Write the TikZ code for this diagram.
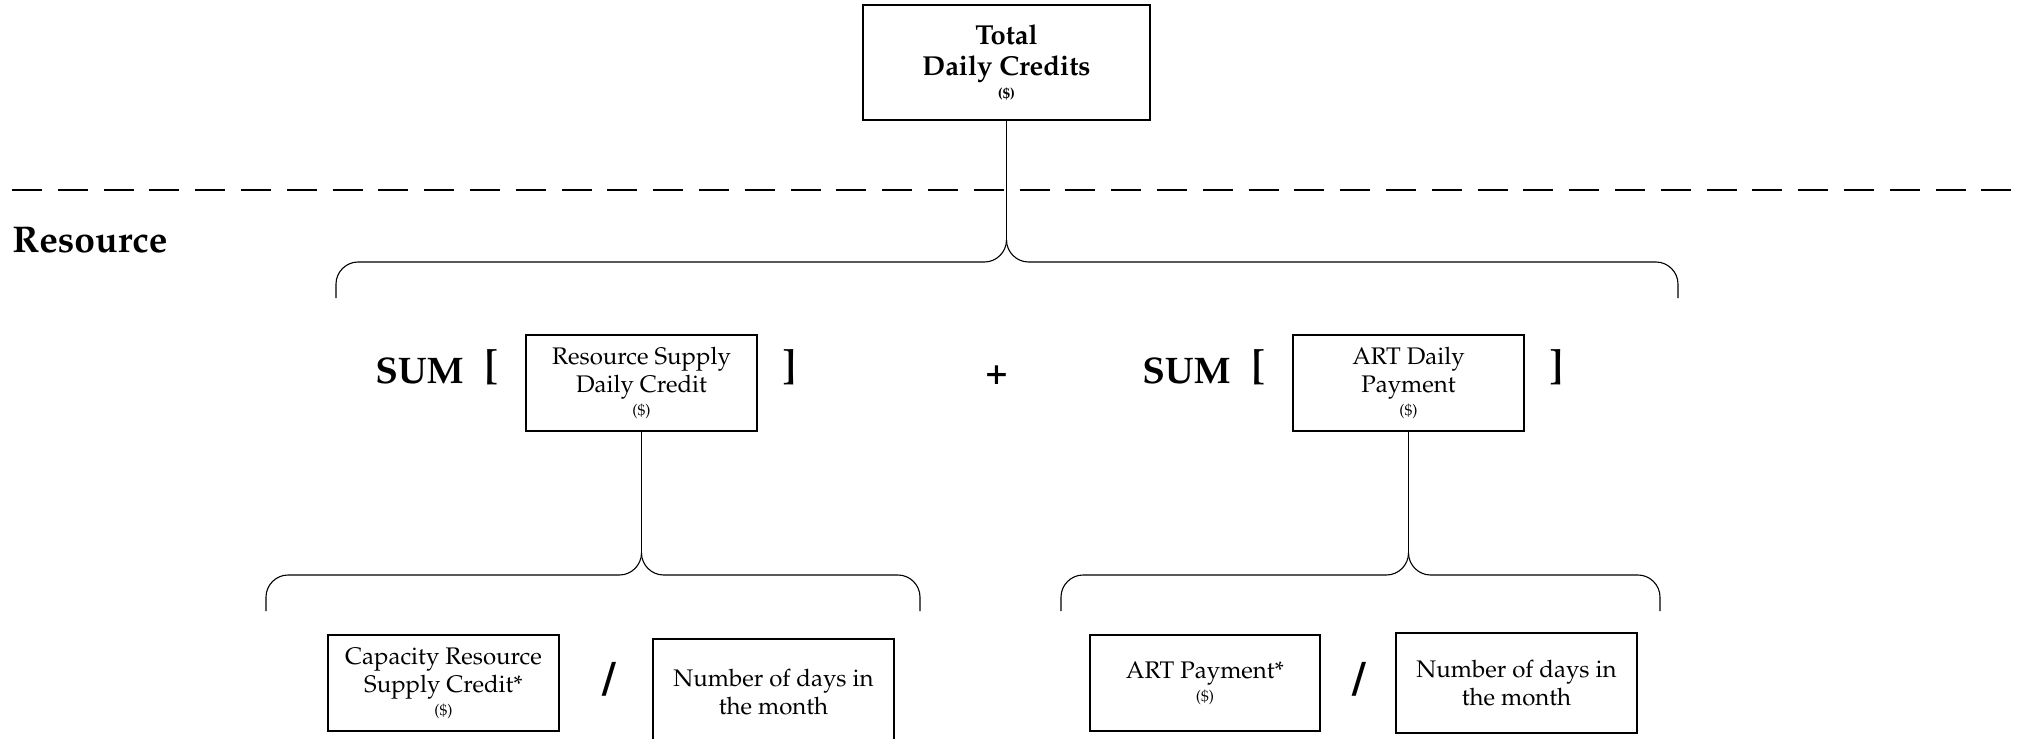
\documentclass[tikz,border=0pt]{standalone}
\usepackage[T1]{fontenc}
\usepackage{mathpazo}

\tikzset{
  box/.style={draw, line width=0.55pt, inner sep=0pt, align=center,
    minimum width=115.5pt, minimum height=48pt, font=\fontsize{12}{14}\selectfont},
  conn/.style={line width=0.55pt},
  op/.style={font=\bfseries\fontsize{18.5}{20}\selectfont, inner sep=0pt},
  brk/.style={font=\bfseries\fontsize{21.5}{23}\selectfont, inner sep=0pt},
  slash/.style={font=\bfseries\fontsize{23}{25}\selectfont, inner sep=0pt},
}
% small "($)" line under a box label
\newcommand{\dollarline}{\\[-2.5pt]{\fontsize{7.8}{9}\selectfont(\$)}}
% curly brace opening downwards: tip x, tip y, left x, right x
\newcommand{\curlbrace}[4]{%
  \draw[conn] (#1,#2) .. controls (#1,#2+12) and (#1-10,#2+22) .. (#1-22,#2+22)
    -- (#3+22,#2+22) .. controls (#3+10,#2+22) and (#3,#2+32) .. (#3,#2+44) -- (#3,#2+58);
  \draw[conn] (#1,#2) .. controls (#1,#2+12) and (#1+10,#2+22) .. (#1+22,#2+22)
    -- (#4-22,#2+22) .. controls (#4-10,#2+22) and (#4,#2+32) .. (#4,#2+44) -- (#4,#2+58);
}

\begin{document}
\begin{tikzpicture}[x=0.5pt,y=-0.5pt]
  \useasboundingbox (0,0) rectangle (2026,739);

  % total
  \node[box, minimum width=143.5pt, minimum height=57.5pt,
    font=\bfseries\fontsize{13.7}{15.5}\selectfont] (tot) at (1006.5,62.5)
    {Total\\Daily Credits\\[-4pt]{\fontsize{7.3}{8}\selectfont(\$)}};

  \draw[line width=1pt, dash pattern=on 15pt off 7.9pt] (12,190) -- (2026,190);
  \node[anchor=base west, inner sep=0pt, font=\bfseries\fontsize{18.6}{20}\selectfont]
    (sec) at (12,252) {Resource};

  % middle row
  \node[op, anchor=base] (suml) at (419.5,383) {SUM};
  \node[brk] (lbl) at (492,367) {[};
  \node[box] (rsdc) at (641.5,383) {Resource Supply\\Daily Credit\dollarline};
  \node[brk] (lbr) at (790,367) {]};
  \node[op] (plus) at (996.5,375) {+};
  \node[op, anchor=base] (sumr) at (1186.5,383) {SUM};
  \node[brk] (rbl) at (1259,367) {[};
  \node[box] (artd) at (1408.5,383) {ART Daily\\Payment\dollarline};
  \node[brk] (rbr) at (1557,367) {]};

  % bottom row
  \node[box] (crsc) at (443.5,683) {Capacity Resource\\Supply Credit*\dollarline};
  \node[slash] (divl) at (609,679) {/};
  \node[box, minimum width=120.5pt, minimum height=53pt] (ndl) at (773.5,692)
    {Number of days in\\the month};
  \node[box, minimum width=115pt] (artp) at (1205,683) {ART Payment*\dollarline};
  \node[slash] (divr) at (1359,679) {/};
  \node[box, minimum width=120.5pt, minimum height=50pt] (ndr) at (1516.5,683)
    {Number of days in\\the month};

  % braces
  \coordinate (tipT) at (1006.5,240);
  \coordinate (tipL) at (641.5,553);
  \coordinate (tipR) at (1408.5,553);
  \draw[conn] (tot.south) -- (tipT);
  \draw[conn] (rsdc.south) -- (tipL);
  \draw[conn] (artd.south) -- (tipR);
  \curlbrace{1006.5}{240}{336}{1678}
  \curlbrace{641.5}{553}{266}{920}
  \curlbrace{1408.5}{553}{1061}{1660}
\end{tikzpicture}
\end{document}
